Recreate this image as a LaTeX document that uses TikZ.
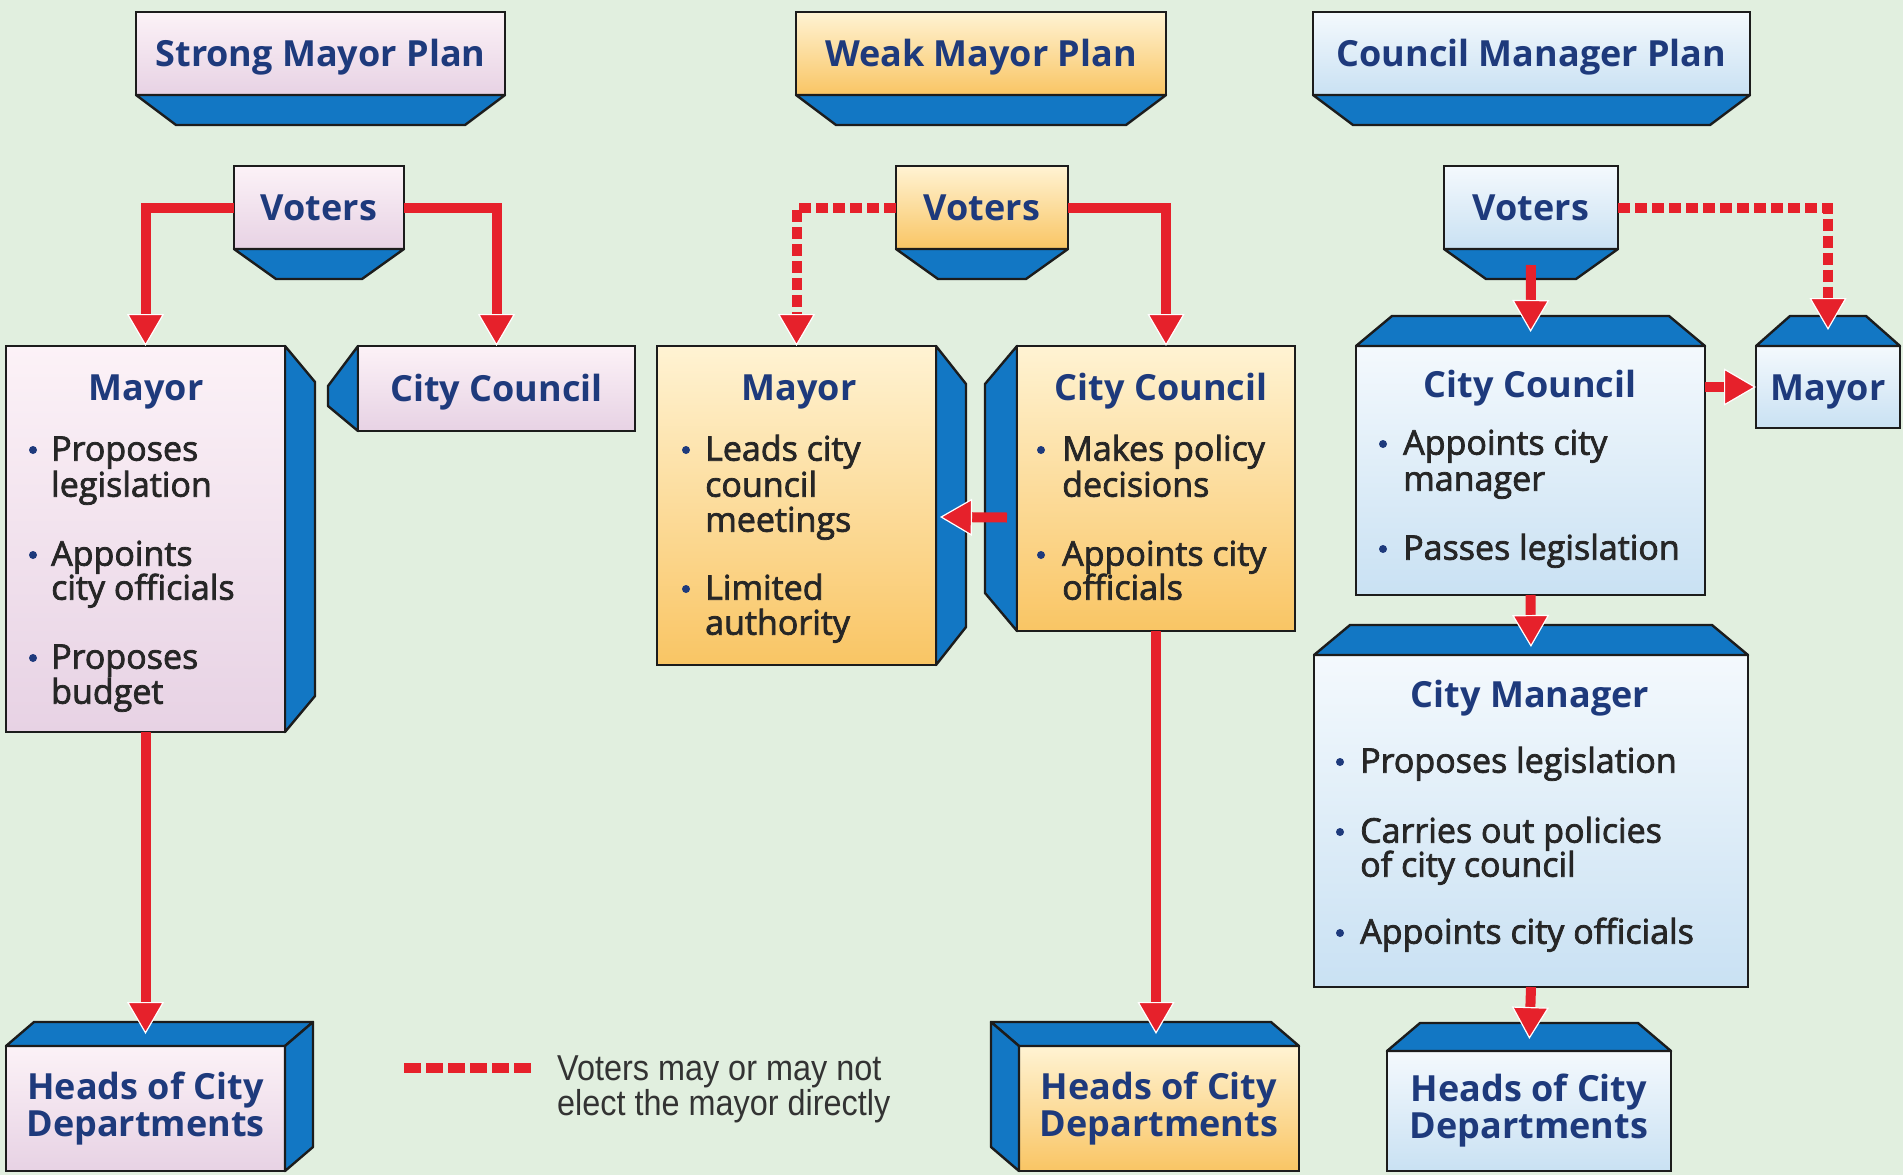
\documentclass[tikz,border=0pt]{standalone}
\usepackage{fontspec}
\setmainfont{Open Sans}
\newfontfamily\medfont{Open Sans}[FakeBold=2.2]
\newfontfamily\legfont{Liberation Sans}[FakeStretch=0.9]
\usetikzlibrary{arrows.meta,calc}

\definecolor{bgc}{HTML}{E1EFDF}
\definecolor{band}{HTML}{1277C4}
\definecolor{edge}{HTML}{1C1C1C}
\definecolor{navy}{HTML}{1E3A7C}
\definecolor{body}{HTML}{262626}
\definecolor{redc}{HTML}{E6212B}
\definecolor{pinkT}{HTML}{FCF2F7}
\definecolor{pinkB}{HTML}{E7D2E4}
\definecolor{orT}{HTML}{FFF3D3}
\definecolor{orB}{HTML}{F9C564}
\definecolor{blT}{HTML}{F4F9FD}
\definecolor{blB}{HTML}{C9E1F3}
\definecolor{legc}{HTML}{333333}

\tikzset{
  front/.style={draw=edge, line width=2.4pt, inner sep=0pt, outer sep=0pt},
  pinkbox/.style={front, top color=pinkT, bottom color=pinkB},
  orangebox/.style={front, top color=orT, bottom color=orB},
  bluebox/.style={front, top color=blT, bottom color=blB},
  side/.style={fill=band, draw=edge, line width=2.4pt, line join=round},
  ttl/.style={font=\bfseries\fontsize{36}{37}\selectfont, text=navy},
  onetl/.style={ttl, text height=26pt, text depth=0pt},
  twotl/.style={ttl, align=center},
  hd/.style={ttl, anchor=mid, inner sep=0pt},
  btxt/.style={font=\medfont\fontsize{34}{35}\selectfont, text=body, anchor=mid west, inner sep=0pt},
  dot/.style={circle, fill=navy, inner sep=0pt, minimum size=8pt},
  legtxt/.style={font=\legfont\fontsize{36}{35}\selectfont, text=legc, align=left, anchor=west, inner sep=0pt},
  tipr/.style={-{Triangle[width=37pt,length=32pt,color=white,fill=redc,line width=1.2pt]}},
  arr/.style={draw=redc, line width=10pt, tipr},
  darr/.style={draw=redc, line width=10pt, dash pattern=on 12pt off 5pt, tipr},
}

% a bullet with the first line of its text, and a further line of text
\newcommand\bulitem[5]{%
  \node[dot] (#1-dot) at ($(#2,#4)+(0,-8)$) {};
  \node[btxt] (#1) at (#3,#4) {#5};}
\newcommand\bulcont[4]{\node[btxt] (#1) at (#2,#3) {#4};}

\begin{document}
\begin{tikzpicture}[x=1pt,y=-1pt]
\useasboundingbox (0,0) rectangle (1903,1175);
\fill[bgc] (0,0) rectangle (1903,1175);

% ---------- plan headers ----------
\node[pinkbox, onetl, minimum width=369pt, minimum height=83pt] (hdr1) at (320.5,53.5) {Strong Mayor Plan};
\node[orangebox, onetl, minimum width=370pt, minimum height=83pt] (hdr2) at (981,53.5) {Weak Mayor Plan};
\node[bluebox, onetl, minimum width=437pt, minimum height=83pt] (hdr3) at (1531.5,53.5) {Council Manager Plan};
\foreach \h in {hdr1,hdr2,hdr3}{
  \draw[side] (\h.south west) -- (\h.south east) -- ++(-40,30)
     -- ($(\h.south west)+(40,30)$) -- cycle;}

% ---------- voters ----------
\node[pinkbox, onetl, minimum width=170pt, minimum height=83pt] (v1) at (319,207.5) {Voters};
\node[orangebox, onetl, minimum width=172pt, minimum height=83pt] (v2) at (982,207.5) {Voters};
\node[bluebox, onetl, minimum width=174pt, minimum height=83pt] (v3) at (1531,207.5) {Voters};
\foreach \v in {v1,v2,v3}{
  \draw[side] (\v.south west) -- (\v.south east) -- ++(-42,30)
     -- ($(\v.south west)+(42,30)$) -- cycle;}

% ---------- strong mayor plan ----------
\draw[side] (285,346) -- (315,382) -- (315,696) -- (285,732) -- cycle;
\node[pinkbox, minimum width=279pt, minimum height=386pt] (m1) at (145.5,539) {};
\draw[side] (358,346) -- (328,386) -- (328,406) -- (358,431) -- cycle;
\node[pinkbox, onetl, minimum width=277pt, minimum height=85pt] (cc1) at (496.5,388.5) {City Council};
\node[pinkbox, twotl, minimum width=279pt, minimum height=125pt] (h1) at (145.5,1108.5) {Heads of City\\Departments};
\draw[side] (h1.north west) -- ($(h1.north west)+(28,-24)$) -- ($(h1.north east)+(28,-24)$) -- (h1.north east) -- cycle;
\draw[side] (h1.north east) -- ($(h1.north east)+(28,-24)$) -- ($(h1.south east)+(28,-24)$) -- (h1.south east) -- cycle;

\node[hd] (m1t) at (146,398) {Mayor};
\bulitem{m1i1}{33}{51}{458}{Proposes}
\bulcont{m1i1b}{51}{494}{legislation}
\bulitem{m1i2}{33}{51}{563}{Appoints}
\bulcont{m1i2b}{51}{597}{city officials}
\bulitem{m1i3}{33}{51}{666}{Proposes}
\bulcont{m1i3b}{51}{701}{budget}

% ---------- weak mayor plan ----------
\draw[side] (936,346) -- (966,384) -- (966,627) -- (936,665) -- cycle;
\node[orangebox, minimum width=279pt, minimum height=319pt] (m2) at (796.5,505.5) {};
\draw[side] (1017,346) -- (985,384) -- (985,593) -- (1017,631) -- cycle;
\node[orangebox, minimum width=278pt, minimum height=285pt] (cc2) at (1156,488.5) {};
\node[orangebox, twotl, minimum width=280pt, minimum height=125pt] (h2) at (1159,1108.5) {Heads of City\\Departments};
\draw[side] (h2.north west) -- ($(h2.north west)+(-28,-24)$) -- ($(h2.north east)+(-28,-24)$) -- (h2.north east) -- cycle;
\draw[side] (h2.north west) -- ($(h2.north west)+(-28,-24)$) -- ($(h2.south west)+(-28,-24)$) -- (h2.south west) -- cycle;

\node[hd] (m2t) at (799,398) {Mayor};
\bulitem{m2i1}{686}{705}{458}{Leads city}
\bulcont{m2i1b}{705}{494}{council}
\bulcont{m2i1c}{705}{529}{meetings}
\bulitem{m2i2}{686}{705}{597}{Limited}
\bulcont{m2i2b}{705}{632}{authority}

\node[hd] (cc2t) at (1161,398) {City Council};
\bulitem{cc2i1}{1041}{1062}{458}{Makes policy}
\bulcont{cc2i1b}{1062}{494}{decisions}
\bulitem{cc2i2}{1041}{1062}{563}{Appoints city}
\bulcont{cc2i2b}{1062}{597}{officials}

% ---------- council manager plan ----------
\node[bluebox, minimum width=349pt, minimum height=249pt] (cc3) at (1530.5,470.5) {};
\draw[side] (cc3.north west) -- ++(36,-30) -- ($(cc3.north east)+(-36,-30)$) -- (cc3.north east) -- cycle;
\node[bluebox, onetl, minimum width=144pt, minimum height=82pt] (my3) at (1828,387) {Mayor};
\draw[side] (my3.north west) -- ++(34,-30) -- ($(my3.north east)+(-34,-30)$) -- (my3.north east) -- cycle;
\node[bluebox, minimum width=434pt, minimum height=332pt] (cm) at (1531,821) {};
\draw[side] (cm.north west) -- ++(36,-30) -- ($(cm.north east)+(-36,-30)$) -- (cm.north east) -- cycle;
\node[bluebox, twotl, minimum width=284pt, minimum height=120pt] (h3) at (1529,1111) {Heads of City\\Departments};
\draw[side] (h3.north west) -- ++(33,-28) -- ($(h3.north east)+(-33,-28)$) -- (h3.north east) -- cycle;

\node[hd] (cc3t) at (1530,395) {City Council};
\bulitem{cc3i1}{1383}{1403}{452}{Appoints city}
\bulcont{cc3i1b}{1403}{488}{manager}
\bulitem{cc3i2}{1383}{1403}{557}{Passes legislation}

\node[hd] (cmt) at (1530,705) {City Manager};
\bulitem{cmi1}{1340}{1360}{770}{Proposes legislation}
\bulitem{cmi2}{1340}{1360}{840}{Carries out policies}
\bulcont{cmi2b}{1360}{874}{of city council}
\bulitem{cmi3}{1340}{1360}{941}{Appoints city officials}

% ---------- connectors ----------
\draw[arr] (v1.west) -| (m1.north);
\draw[arr] (v1.east) -| (cc1.north);
\draw[arr, shorten >=12pt] (m1.south) -- (h1.north);

\draw[darr] (v2.west) -| (m2.north);
\draw[arr] (v2.east) -| ($(cc2.north)+(10,0)$);
\draw[arr] ($(cc2.west)+(-10,29)$) -- ($(m2.east)+(4,11.5)$);
\draw[arr, shorten >=12pt] (cc2.south) -- (cc2.south |- h2.north);

\draw[arr, shorten <=16pt, shorten >=14pt] (v3.south) -- (cc3.north);
\draw[darr, shorten >=16pt] (v3.east) -| (my3.north);
\draw[arr] (cc3.east |- my3.west) -- (my3.west);
\draw[arr, shorten >=8pt] (cc3.south) -- (cm.north);
\draw[arr, shorten >=12pt] (cm.south) -- (h3.north);

% ---------- legend ----------
\coordinate (lg0) at (404,1068);
\coordinate (lg1) at (535,1068);
\draw[redc, line width=10pt, dash pattern=on 17pt off 5pt] (lg0) -- (lg1);
\node[legtxt] (lgt) at (557,1089) {Voters may or may not\\elect the mayor directly};
\end{tikzpicture}
\end{document}
